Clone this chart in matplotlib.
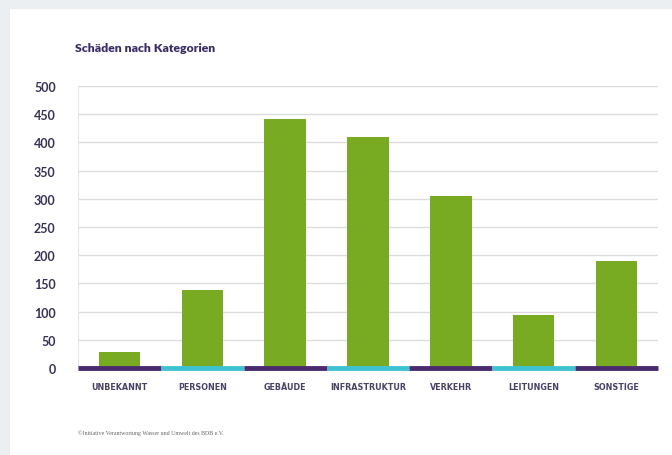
import matplotlib
matplotlib.use("Agg")
import matplotlib.pyplot as plt
from matplotlib.patches import Rectangle

categories = ["UNBEKANNT", "PERSONEN", "GEBÄUDE", "INFRASTRUKTUR", "VERKEHR", "LEITUNGEN", "SONSTIGE"]
values = [28, 138, 441, 409, 305, 94, 190]
yticks = [0, 50, 100, 150, 200, 250, 300, 350, 400, 450, 500]
base_colors = ["#4a2b70", "#3fc3d3", "#4a2b70", "#3fc3d3", "#4a2b70", "#3fc3d3", "#4a2b70"]

W, H = 672, 456
fig = plt.figure(figsize=(W/100, H/100), dpi=100)
fig.patch.set_facecolor("#eceff2")
bg = Rectangle((10/W, 0), 1 - 10/W, 1 - 10/H, transform=fig.transFigure,
               facecolor="white", edgecolor="none", zorder=-10)
fig.patches.append(bg)

ax = fig.add_axes([78/W, 1 - 369/H, 580/W, 282/H])
ax.set_zorder(5)
ax.set_facecolor("none")
x = list(range(len(categories)))
ax.bar(x, values, width=0.5, color="#79ab22", zorder=3)
ax.set_xlim(-0.5, len(categories) - 0.5)
ax.set_ylim(0, 500)
ax.set_yticks(yticks)
ax.set_yticklabels([str(v) for v in yticks], fontsize=9, color="#3a3158",
                   fontweight="bold", family="Lato")
ax.grid(axis="y", color="#dcdcdc", linewidth=1, zorder=0)
for s in ["top", "right", "bottom"]:
    ax.spines[s].set_visible(False)
ax.spines["left"].set_color("#e4e4e4")
ax.tick_params(axis="y", length=0, pad=16)
ax.tick_params(axis="x", length=0, pad=10)
ax.set_xticks(x)
ax.set_xticklabels(categories, fontsize=5.8, color="#4a4266", family="DejaVu Sans",
                   fontweight="bold")

for i, c in enumerate(base_colors):
    ax.plot([i - 0.5, i + 0.5], [0, 0], color=c, linewidth=3.5, solid_capstyle="butt",
            zorder=4, clip_on=False)

fig.text(75/W, 1 - 48/H, "Schäden nach Kategorien", fontsize=8.8, fontweight="heavy",
         family="Lato", color="#3b2d66", va="center", ha="left")
fig.text(78/W, 1 - 433/H, "©Initiative Verantwortung Wasser und Umwelt des BDB e.V.",
         fontsize=4.2, family="Liberation Serif", color="#666666", va="center", ha="left")

fig.savefig("out.png", dpi=100, facecolor=fig.get_facecolor())
